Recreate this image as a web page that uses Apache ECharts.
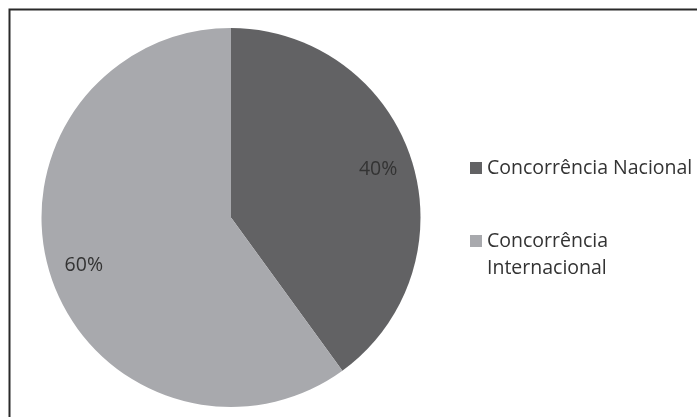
<!DOCTYPE html>
<html><head><meta charset="utf-8">
<script src="https://cdn.jsdelivr.net/npm/echarts@6/dist/echarts.min.js"></script>
<style>html,body{margin:0;padding:0;background:#fff}#c{width:697px;height:417px}</style>
</head><body><div id="c"></div>
<script>
var categories = ['Concorrência Nacional', 'Concorrência Internacional'];
var legendLabels = ['Concorrência Nacional', '\nConcorrência\nInternacional'];
var values = [40, 60];
var colors = ['#626264', '#a8a9ad'];

var data = categories.map(function (n, i) { return { name: n, value: values[i], itemStyle: { color: colors[i] } }; });
var font = 'Open Sans';
var chart = echarts.init(document.getElementById('c'), null, { renderer: 'canvas' });
chart.setOption({
  animation: false,
  graphic: [{ type: 'rect', shape: { x: 9.5, y: 9.5, width: 720, height: 440 }, style: { fill: 'none', stroke: '#2a2a2a', lineWidth: 2 }, silent: true }],
  legend: [
    { orient: 'vertical', left: 470, top: 154.5, padding: 0, itemWidth: 12, itemHeight: 12, itemGap: 0, itemGap: 0, icon: 'rect',
      data: [categories[0]],
      formatter: function () { return legendLabels[0]; },
      textStyle: { fontFamily: font, fontSize: 19.5, color: '#333', lineHeight: 27 } },
    { orient: 'vertical', left: 470, top: 200.5, padding: 0, itemWidth: 12, itemHeight: 12, itemGap: 0, icon: 'rect',
      data: [categories[1]],
      formatter: function () { return legendLabels[1]; },
      textStyle: { fontFamily: font, fontSize: 19.5, color: '#333', lineHeight: 27 } }
  ],
  series: [
    { type: 'pie', center: [231, 217.5], radius: [0, 189.5], startAngle: 90, clockwise: true,
      label: { show: false }, labelLine: { show: false }, itemStyle: { borderWidth: 0 },
      silent: true, data: data },
    { type: 'pie', center: [231, 217.5], radius: [114, 189.5], startAngle: 90, clockwise: true,
      itemStyle: { color: 'rgba(0,0,0,0)', borderWidth: 0 }, silent: true, legendHoverLink: false,
      label: { show: true, position: 'inside', formatter: '{c}%', fontFamily: font, fontSize: 19.5, color: '#333' },
      labelLine: { show: false },
      data: categories.map(function (n, i) { return { name: n + ' ', value: values[i] }; }) }
  ]
});
</script></body></html>
